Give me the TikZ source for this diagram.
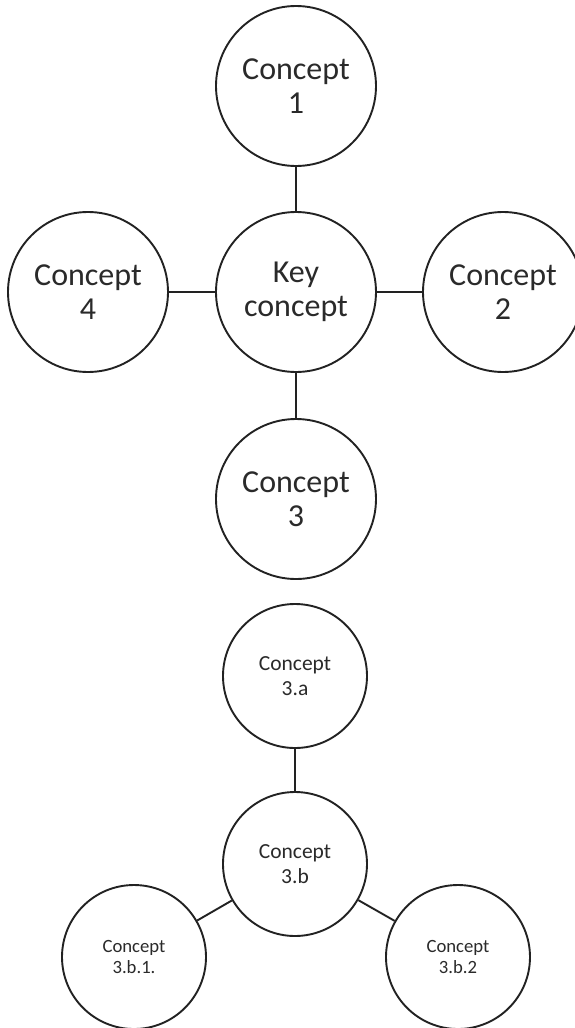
\documentclass[tikz,border=0pt]{standalone}
\usepackage{fontspec}
\setmainfont{Carlito}
\definecolor{ink}{HTML}{222222}
\definecolor{txt}{HTML}{2A2A2A}
\begin{document}
\begin{tikzpicture}[x=1pt,y=-1pt,
  bigc/.style={circle,draw=ink,line width=1.9pt,minimum size=160pt,inner sep=0pt,align=center,text=txt,font=\fontsize{32}{34.5}\selectfont},
  midc/.style={circle,draw=ink,line width=1.9pt,minimum size=144pt,inner sep=0pt,align=center,text=txt,font=\fontsize{21.5}{25}\selectfont},
  smallc/.style={circle,draw=ink,line width=1.9pt,minimum size=144pt,inner sep=0pt,align=center,text=txt,font=\fontsize{18.7}{20.7}\selectfont},
  link/.style={draw=ink,line width=1.9pt}]
\useasboundingbox[fill=white] (0,0) rectangle (574,1028);
\node[bigc] (c1) at (296,86) {Concept\\1};
\node[bigc] (key) at (296,292) {Key\\concept};
\node[bigc] (c4) at (88,292) {Concept\\4};
\node[bigc] (c2) at (503,292) {Concept\\2};
\node[bigc] (c3) at (296,499) {Concept\\3};
\node[midc] (c3a) at (295,676) {Concept\\3.a};
\node[midc] (c3b) at (295,864) {Concept\\3.b};
\node[smallc] (c3b1) at (134,957) {Concept\\3.b.1.};
\node[smallc] (c3b2) at (458,957) {Concept\\3.b.2};
\draw[link] (c1) -- (key);
\draw[link] (key) -- (c4);
\draw[link] (key) -- (c2);
\draw[link] (key) -- (c3);
\draw[link] (c3a) -- (c3b);
\draw[link] (c3b) -- (c3b1);
\draw[link] (c3b) -- (c3b2);
\end{tikzpicture}
\end{document}
